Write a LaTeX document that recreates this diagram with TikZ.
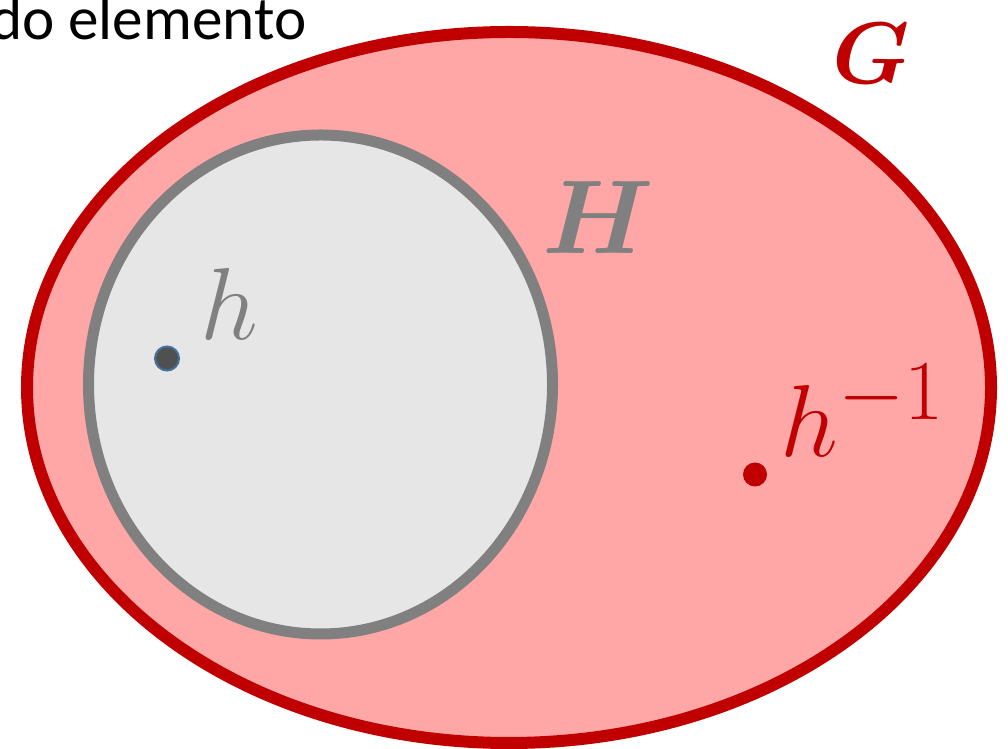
\documentclass[tikz,border=0pt]{standalone}
\usepackage{amsmath,amssymb}
\usepackage{fontspec}
\newfontfamily\calibfont{Carlito}
\usepackage{tikz}
\usetikzlibrary{positioning,calc}
\definecolor{grpred}{RGB}{192,0,0}
\definecolor{grppink}{RGB}{255,166,166}
\definecolor{subgray}{RGB}{128,128,128}
\definecolor{subfill}{RGB}{230,230,230}
\definecolor{dotgray}{RGB}{80,80,80}
\definecolor{dotblue}{RGB}{65,113,156}

\begin{document}
\begin{tikzpicture}[
    elem/.style={circle,inner sep=0,minimum size=0.24cm},
    lbl/.style={inner sep=0,font=\Huge}
  ]
  \clip (0,0) rectangle (10.08,7.48);
  % grupo G y subgrupo H
  \draw[line width=0.12cm,grpred,fill=grppink] (5.09,3.605) ellipse [x radius=4.82, y radius=3.555];
  \draw[line width=0.11cm,subgray,fill=subfill] (3.205,3.635) ellipse [x radius=2.32, y radius=2.495];
  \node[lbl,text=grpred,scale=1.0] (G) at (8.71,6.94) {$\boldsymbol{G}$};
  \node[lbl,text=subgray,scale=1.2] (H) at (5.98,5.30) {$\boldsymbol{H}$};
  % elementos
  \node[elem,fill=dotgray,draw=dotblue,line width=0.02cm] (h) at (1.67,3.895) {};
  \node[lbl,text=subgray,scale=1.17,anchor=base west] (hlab) at (2.00,4.08) {$h$};
  \node[elem,fill=grpred] (hinv) at (7.55,2.735) {};
  \node[lbl,text=grpred,scale=1.17,anchor=base west] (hinvlab) at (7.80,2.91) {$h^{-1}$};
  \node[inner sep=0,anchor=base east,font=\calibfont\fontsize{17.4}{21}\selectfont] (texto) at (3.07,7.08) {do elemento};
\end{tikzpicture}
\end{document}
